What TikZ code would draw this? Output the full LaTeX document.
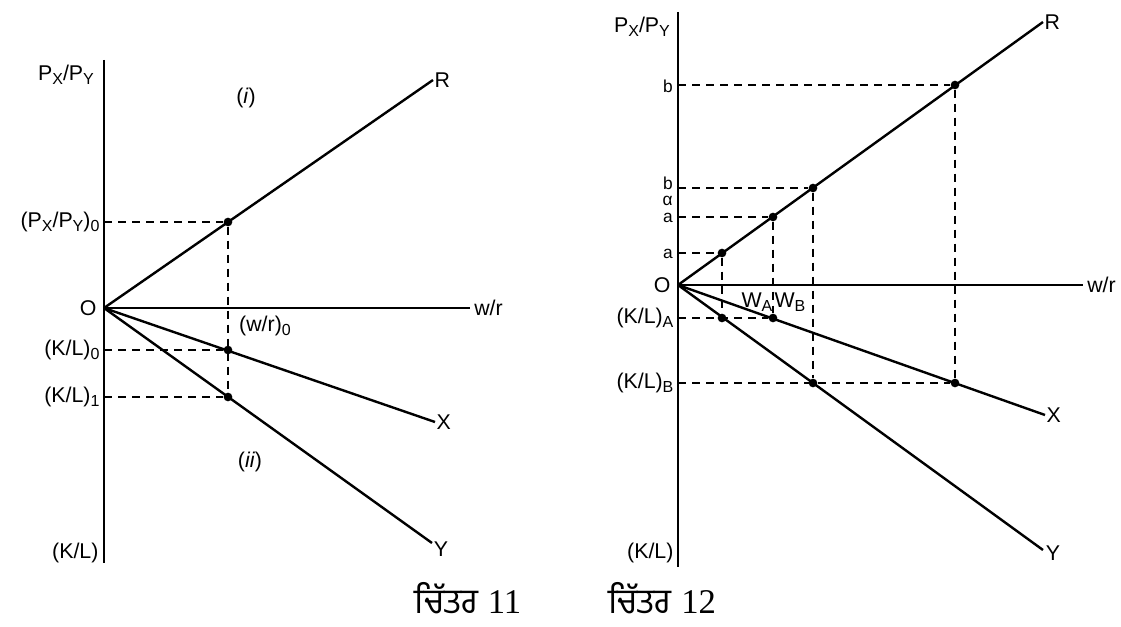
\documentclass[tikz,border=0pt]{standalone}
\usepackage{fontspec}
\setmainfont{Liberation Sans}
\newfontfamily\gurmukhifont[Script=Gurmukhi]{Hind Jalandhar}
\newfontfamily\capnumfont{Liberation Serif}
\usetikzlibrary{positioning}
\newcommand\lsub[1]{\raisebox{-0.4ex}{\fontsize{12}{12}\selectfont #1}}

\begin{document}
\begin{tikzpicture}[x=0.75pt, y=-0.75pt,
  axis/.style={line width=2pt},
  ray/.style={line width=1.8pt},
  guide/.style={line width=1.6pt, dash pattern=on 6pt off 4.5pt},
  dot/.style={circle, fill, inner sep=0pt, minimum size=6.5pt},
  lbl/.style={font=\fontsize{16}{16}\selectfont, inner sep=1pt},
  tick/.style={font=\fontsize{13}{13}\selectfont, inner sep=0pt},
  chartcap/.style={font=\fontsize{26}{26}\selectfont, inner sep=0pt}]
  \useasboundingbox (0,0) rectangle (1121,627);
  % chart 11
  \coordinate (o1) at (104,308);
  \coordinate (t1) at (104,60);
  \coordinate (u1) at (104,563);
  \coordinate (w1) at (470,308);
  \coordinate (r1) at (433,80);
  \coordinate (x1) at (435,422);
  \coordinate (y1) at (432,543);
  \node[dot] (p0) at (228,222) {};
  \node[dot] (k0) at (228,350) {};
  \node[dot] (k1) at (228,397) {};
  \draw[axis] (t1) -- (u1);
  \draw[axis] (o1) -- (w1);
  \draw[ray] (o1) -- (r1);
  \draw[ray] (o1) -- (x1);
  \draw[ray] (o1) -- (y1);
  \node[lbl] (py1) at (66,75) {P\lsub{X}/P\lsub{Y}};
  \node[lbl, anchor=east] (lp0) at (101,222) {(P\lsub{X}/P\lsub{Y})\lsub{0}};
  \node[lbl, anchor=east] (lo1) at (98,308) {O};
  \node[lbl, anchor=east] (lk0) at (101,350) {(K/L)\lsub{0}};
  \node[lbl, anchor=east] (lk1) at (101,397) {(K/L)\lsub{1}};
  \node[lbl, anchor=east] (kl1) at (100,553) {(K/L)};
  \draw[guide] (o1 |- p0) -- (p0);
  \draw[guide] (o1 |- k0) -- (k0);
  \draw[guide] (o1 |- k1) -- (k1);
  \draw[guide] (p0) -- (k1);
  \node[lbl, right=2pt of w1] (lw1) {w/r};
  \node[lbl, right=0pt of r1] (lr1) {R};
  \node[lbl, right=0pt of x1] (lx1) {X};
  \node[lbl] (ly1) at (441,549) {Y};
  \node[lbl] (lw0) at (265,326) {(w/r)\lsub{0}};
  \node[lbl] (ci) at (246,98) {(\textit{i})};
  \node[lbl] (cii) at (250,462) {(\textit{ii})};
  % chart 12
  \coordinate (o2) at (678,285);
  \coordinate (t2) at (678,12);
  \coordinate (u2) at (678,567);
  \coordinate (w2) at (1083,285);
  \coordinate (r2) at (1043,22);
  \coordinate (x2) at (1045,415);
  \coordinate (y2) at (1043,550);
  \node[dot] (a1) at (722,253) {};
  \node[dot] (a2) at (773,217) {};
  \node[dot] (b1) at (813,188) {};
  \node[dot] (b2) at (955,85) {};
  \node[dot] (ka1) at (722,318) {};
  \node[dot] (ka2) at (773,318) {};
  \node[dot] (kb1) at (813,383) {};
  \node[dot] (kb2) at (955,383) {};
  \draw[axis] (t2) -- (u2);
  \draw[axis] (o2) -- (w2);
  \draw[ray] (o2) -- (r2);
  \draw[ray] (o2) -- (x2);
  \draw[ray] (o2) -- (y2);
  \node[lbl] (py2) at (642,27) {P\lsub{X}/P\lsub{Y}};
  \node[tick, anchor=east] (lb2) at (673,86) {b};
  \node[tick, anchor=east] (lb1) at (673,183) {b};
  \node[tick, anchor=east] (lal) at (673,201) {α};
  \node[tick, anchor=east] (la2) at (673,218) {a};
  \node[tick, anchor=east] (la1) at (673,254) {a};
  \node[lbl, anchor=east] (lo2) at (672,285) {O};
  \node[lbl, anchor=east] (lka) at (675,318) {(K/L)\lsub{A}};
  \node[lbl, anchor=east] (lkb) at (675,383) {(K/L)\lsub{B}};
  \node[lbl, anchor=east] (kl2) at (675,553) {(K/L)};
  \draw[guide] (o2 |- b2) -- (b2);
  \draw[guide] (o2 |- b1) -- (b1);
  \draw[guide] (o2 |- a2) -- (a2);
  \draw[guide] (o2 |- a1) -- (a1);
  \draw[guide] (o2 |- ka2) -- (ka2);
  \draw[guide] (o2 |- kb2) -- (kb2);
  \draw[guide] (a1) -- (ka1);
  \draw[guide] (a2) -- (ka2);
  \draw[guide] (b1) -- (kb1);
  \draw[guide] (b2) -- (kb2);
  \node[lbl] (wa) at (757,302) {W\lsub{A}};
  \node[lbl] (wb) at (790,302) {W\lsub{B}};
  \node[lbl, right=2pt of w2] (lw2) {w/r};
  \node[lbl, right=0pt of r2] (lr2) {R};
  \node[lbl, right=0pt of x2] (lx2) {X};
  \node[lbl] (ly2) at (1053,553) {Y};
  % captions
  \node[chartcap] (c11) at (468,598) {{\gurmukhifont ਚਿੱਤਰ} {\capnumfont 11}};
  \node[chartcap] (c12) at (662,598) {{\gurmukhifont ਚਿੱਤਰ} {\capnumfont 12}};
\end{tikzpicture}
\end{document}
